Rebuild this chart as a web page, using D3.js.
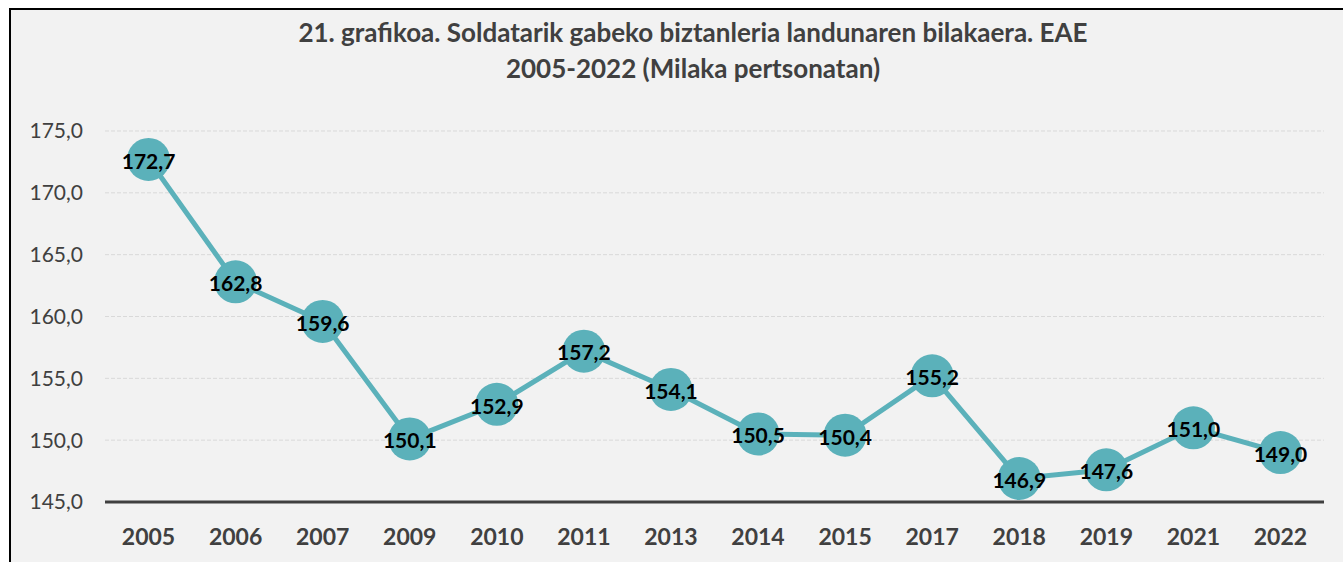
<!doctype html>
<html>
<head>
	<meta charset="utf-8">
	<title></title>
	<style>
		body { margin: 0; background: #fff; }
		svg { display: block; font-family: Lato, "Open Sans", sans-serif; }
		.grid line { stroke: #d9d9d9; stroke-dasharray: 4, 2; }
		.y-label { fill: #404040; font-size: 21px; }
		.x-label { fill: #404040; font-size: 23px; font-weight: bold; }
		.title { fill: #404040; font-size: 26px; font-weight: bold; }
		.value { fill: #000; font-size: 21px; font-weight: bold; }
	</style>
</head>
<body>

	<svg width="1343" height="562"></svg>

	<script src="https://d3js.org/d3.v7.min.js"></script>
	<script>

		const years = [ "2005", "2006", "2007", "2009", "2010", "2011", "2013", "2014", "2015", "2017", "2018", "2019", "2021", "2022" ];
		const values = [ 172.7, 162.8, 159.6, 150.1, 152.9, 157.2, 154.1, 150.5, 150.4, 155.2, 146.9, 147.6, 151.0, 149.0 ];
		const y_ticks = [ 145, 150, 155, 160, 165, 170, 175 ];
		const title_lines = [ "21. grafikoa. Soldatarik gabeko biztanleria landunaren bilakaera. EAE", "2005-2022 (Milaka pertsonatan)" ];

		const svg = d3.select( "svg" );
		const fmt = d => d.toFixed( 1 ).replace( ".", "," );

		// chart frame
		svg.append( "rect" )
			.attr( "x", 10 ).attr( "y", 9 )
			.attr( "width", 1343 ).attr( "height", 562 )
			.attr( "fill", "#f2f2f2" )
			.attr( "stroke", "#000" )
			.attr( "stroke-width", 2 );

		const x = d3.scaleBand()
				.domain( years )
				.range( [ 105, 1324 ] );

		const y = d3.scaleLinear()
				.domain( [ 145, 175 ] )
				.range( [ 502, 131 ] );

		// title
		svg.selectAll( ".title" )
			.data( title_lines )
			.enter().append( "text" )
				.attr( "class", "title" )
				.attr( "x", 693 )
				.attr( "y", ( d, i ) => 42 + i * 36 )
				.attr( "text-anchor", "middle" )
				.text( d => d );

		// gridlines
		svg.append( "g" )
			.attr( "class", "grid" )
			.selectAll( "line" )
			.data( y_ticks.filter( d => d > 145 ) )
			.enter().append( "line" )
				.attr( "x1", 105 ).attr( "x2", 1324 )
				.attr( "y1", d => y( d ) ).attr( "y2", d => y( d ) );

		// y labels
		svg.selectAll( ".y-label" )
			.data( y_ticks )
			.enter().append( "text" )
				.attr( "class", "y-label" )
				.attr( "x", 83 )
				.attr( "y", d => y( d ) )
				.attr( "dy", "0.35em" )
				.attr( "text-anchor", "end" )
				.text( fmt );

		// axis line
		svg.append( "line" )
			.attr( "x1", 105 ).attr( "x2", 1324 )
			.attr( "y1", y( 145 ) ).attr( "y2", y( 145 ) )
			.attr( "stroke", "#404040" )
			.attr( "stroke-width", 3 );

		// x labels
		svg.selectAll( ".x-label" )
			.data( years )
			.enter().append( "text" )
				.attr( "class", "x-label" )
				.attr( "x", d => x( d ) + x.bandwidth() / 2 )
				.attr( "y", 545 )
				.attr( "text-anchor", "middle" )
				.text( d => d );

		const points = years.map( ( d, i ) => [ x( d ) + x.bandwidth() / 2, y( values[ i ] ) ] );

		// line
		svg.append( "path" )
			.datum( points )
			.attr( "fill", "none" )
			.attr( "stroke", "#5bb1ba" )
			.attr( "stroke-width", 5 )
			.attr( "d", d3.line() );

		// markers
		svg.selectAll( ".dot" )
			.data( points )
			.enter().append( "circle" )
				.attr( "class", "dot" )
				.attr( "cx", d => d[0] )
				.attr( "cy", d => d[1] )
				.attr( "r", 21.5 )
				.attr( "fill", "#5bb1ba" );

		// value labels
		svg.selectAll( ".value" )
			.data( values )
			.enter().append( "text" )
				.attr( "class", "value" )
				.attr( "x", ( d, i ) => points[ i ][0] )
				.attr( "y", ( d, i ) => points[ i ][1] + 2 )
				.attr( "dy", "0.35em" )
				.attr( "text-anchor", "middle" )
				.text( fmt );

	</script>

</body>
</html>
